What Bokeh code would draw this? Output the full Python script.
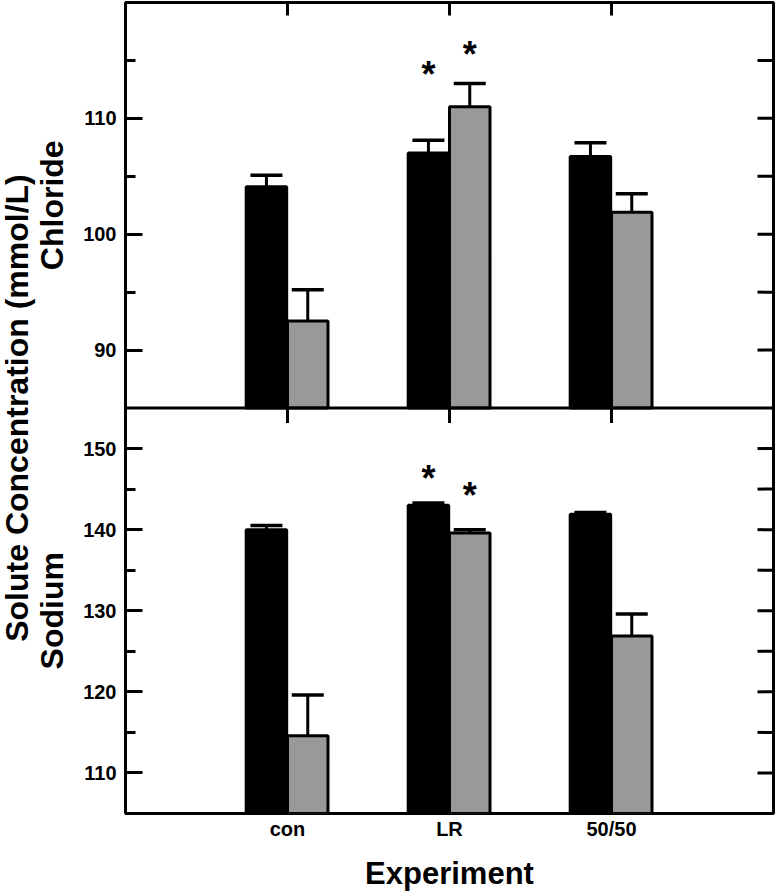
import math
from bokeh.plotting import figure
from bokeh.layouts import row
from bokeh.models import (ColumnDataSource, Range1d, FixedTicker, Span,
                          Whisker, TeeHead)
from bokeh.transform import dodge
from bokeh.core.properties import value
from bokeh.embed import file_html
from bokeh.resources import INLINE

# ---------------- data ----------------
categories = ["con", "LR", "50/50"]

chloride_black = [104.1, 107.0, 106.7]
chloride_black_err = [1.0, 1.1, 1.2]
chloride_gray = [92.5, 111.0, 101.9]
chloride_gray_err = [2.7, 2.0, 1.6]

sodium_black = [140.0, 143.0, 141.9]
sodium_black_err = [0.5, 0.3, 0.2]
sodium_gray = [114.6, 139.6, 126.9]
sodium_gray_err = [5.0, 0.4, 2.7]

chloride_ticks = [90, 100, 110]
chloride_minor = [95, 105, 115]
sodium_ticks = [110, 120, 130, 140, 150]
sodium_minor = [115, 125, 135, 145]

# significance asterisks: category, series, y value
chloride_star_cat = ["LR", "LR"]
chloride_star_series = ["black", "gray"]
chloride_star_y = [114.3, 116.0]
sodium_star_cat = ["LR", "LR"]
sodium_star_series = ["black", "gray"]
sodium_star_y = [147.0, 145.0]

y_title = "Solute Concentration (mmol/L)"
panel_titles = ["Chloride", "Sodium"]
x_title = "Experiment"

# axis spans of each panel
CL_LO, CL_HI = 85, 120
NA_LO, NA_HI = 105, 155

# ---------------- layout / style ----------------
FONT = "Liberation Sans"
H = 896
LW = 72                      # width of the title strip on the left
W = 777 - LW
B_LEFT, B_RIGHT, B_TOP, B_BOTTOM = 125 - LW, 4, 2, 83
FRAME_H = H - B_TOP - B_BOTTOM
FRAME_W = W - B_LEFT - B_RIGHT
GRAY = "#999999"
BW = 0.25
OFF = {"black": -0.13, "gray": 0.125}

n = len(categories)
xs = [i + 1 for i in range(n)]
xpos = dict(zip(categories, xs))
X_END = n + 1

cl_span = CL_HI - CL_LO
na_span = NA_HI - NA_LO


def cl_pos(v):
    return 1 + (v - CL_LO) / cl_span


def na_pos(v):
    return (v - NA_LO) / na_span


p = figure(width=W, height=H, x_range=Range1d(0, X_END), y_range=Range1d(0, 2),
           output_backend="svg", toolbar_location=None,
           min_border_left=B_LEFT, min_border_right=B_RIGHT,
           min_border_top=B_TOP, min_border_bottom=B_BOTTOM)
p.extra_y_ranges = {
    "cl": Range1d(CL_LO - cl_span, CL_HI),
    "na": Range1d(NA_LO, NA_HI + na_span),
}
p.grid.grid_line_color = None
p.outline_line_color = "black"
p.outline_line_width = 3
p.background_fill_color = "white"
p.border_fill_color = "white"

src = ColumnDataSource(dict(
    x=xs,
    cl_b=chloride_black, cl_b_hi=[v + e for v, e in zip(chloride_black, chloride_black_err)],
    cl_g=chloride_gray, cl_g_hi=[v + e for v, e in zip(chloride_gray, chloride_gray_err)],
    na_b=sodium_black, na_b_hi=[v + e for v, e in zip(sodium_black, sodium_black_err)],
    na_g=sodium_gray, na_g_hi=[v + e for v, e in zip(sodium_gray, sodium_gray_err)],
))

panels = [("cl", CL_LO, "cl_b", "cl_g"), ("na", NA_LO, "na_b", "na_g")]
for rname, base, colb, colg in panels:
    for series, col, fill in (("black", colb, "black"), ("gray", colg, GRAY)):
        p.vbar(x=dodge("x", OFF[series], range=p.x_range), width=BW, top=col,
               bottom=base, source=src, y_range_name=rname,
               fill_color=fill, line_color="black", line_width=3)
        p.add_layout(Whisker(base=dodge("x", OFF[series], range=p.x_range),
                             lower=col, upper=col + "_hi", source=src,
                             dimension="height", y_range_name=rname,
                             line_color="black", line_width=3,
                             lower_head=None,
                             upper_head=TeeHead(size=32, line_width=3.5,
                                                line_color="black")))

# asterisks
for rname, cats, sers, ys in (("cl", chloride_star_cat, chloride_star_series, chloride_star_y),
                              ("na", sodium_star_cat, sodium_star_series, sodium_star_y)):
    sx = [xpos[c] + OFF[s] for c, s in zip(cats, sers)]
    p.text(x=sx, y=ys, text=["*"] * len(ys), y_range_name=rname,
           text_font=value(FONT), text_font_style="bold", text_font_size="36px",
           text_align="center", text_baseline="alphabetic", y_offset=6,
           text_color="black")

# divider between panels
p.add_layout(Span(location=1, dimension="width", line_color="black", line_width=3))

# inward x ticks at the top of each panel
top_len = 13 * (2 * cl_span) / FRAME_H
p.segment(x0=xs, x1=xs, y0=[CL_HI] * n, y1=[CL_HI - top_len] * n,
          y_range_name="cl", line_color="black", line_width=3)
mid_len = 15 * (2 * na_span) / FRAME_H
p.segment(x0=xs, x1=xs, y0=[NA_HI] * n, y1=[NA_HI - mid_len] * n,
          y_range_name="na", line_color="black", line_width=3)

# y axis ticks mapped into the shared frame
major = [cl_pos(t) for t in chloride_ticks] + [na_pos(t) for t in sodium_ticks]
minor = [cl_pos(t) for t in chloride_minor] + [na_pos(t) for t in sodium_minor]
overrides = {cl_pos(t): str(t) for t in chloride_ticks}
overrides.update({na_pos(t): str(t) for t in sodium_ticks})

# inward ticks on the right frame edge
right_len = 16 * X_END / FRAME_W
rt = major + minor
p.segment(x0=[X_END] * len(rt), x1=[X_END - right_len] * len(rt), y0=rt, y1=rt,
          line_color="black", line_width=3)

yax = p.left[0]
yax.ticker = FixedTicker(ticks=major, minor_ticks=minor)
yax.major_label_overrides = overrides
yax.axis_line_color = None
yax.major_tick_in = 17
yax.major_tick_out = 0
yax.minor_tick_in = 10
yax.minor_tick_out = 0
yax.major_tick_line_width = 3
yax.minor_tick_line_width = 3
yax.major_tick_line_color = "black"
yax.minor_tick_line_color = "black"
yax.major_label_standoff = 9
yax.major_label_text_font = FONT
yax.major_label_text_font_style = "bold"
yax.major_label_text_font_size = "20px"
yax.major_label_text_color = "black"

xax = p.below[0]
xax.ticker = FixedTicker(ticks=xs)
xax.major_label_overrides = dict(zip(xs, categories))
xax.axis_line_color = None
xax.major_tick_in = 0
xax.major_tick_out = 0
xax.minor_tick_in = 0
xax.minor_tick_out = 0
xax.major_label_standoff = 4
xax.major_label_text_font = FONT
xax.major_label_text_font_style = "bold"
xax.major_label_text_font_size = "20px"
xax.major_label_text_color = "black"
xax.axis_label = x_title
xax.axis_label_text_font = FONT
xax.axis_label_text_font_style = "bold"
xax.axis_label_text_font_size = "31px"
xax.axis_label_text_color = "black"
xax.axis_label_standoff = 13

# ---------------- left strip holding the rotated y titles ----------------
t = figure(width=LW, height=H, x_range=Range1d(0, LW), y_range=Range1d(0, 2),
           output_backend="svg", toolbar_location=None,
           x_axis_location=None, y_axis_location=None,
           min_border_left=0, min_border_right=0,
           min_border_top=B_TOP, min_border_bottom=B_BOTTOM)
t.grid.grid_line_color = None
t.outline_line_color = None
t.background_fill_color = "white"
t.border_fill_color = "white"
t.text(x=[16, 51, 51], y=[1.0, 1.5, 0.5],
       text=[y_title] + panel_titles, angle=math.pi / 2,
       text_font=value(FONT), text_font_style="bold", text_font_size="32px",
       text_align="center", text_baseline="middle", text_color="black")

layout = row(t, p, spacing=0)
open("out.html", "w").write(file_html(layout, INLINE))
